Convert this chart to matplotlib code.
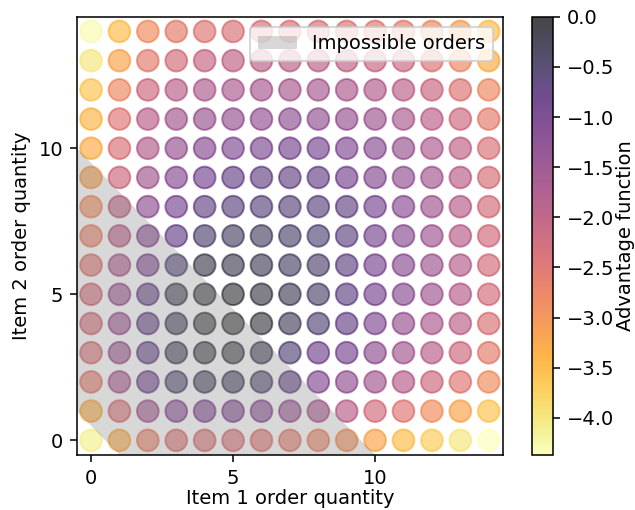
import numpy as np
import matplotlib.pyplot as plt
from matplotlib.cm import ScalarMappable

item1_qty = np.arange(15)
item2_qty = np.arange(15)

# advantage values, one row per item 2 quantity (0 at top of list)
advantage = np.array([
    [-4.10, -3.30, -2.70, -2.45, -2.40, -2.40, -2.50, -2.60, -2.75, -2.95, -3.20, -3.50, -3.70, -4.00, -4.37],  # y=0
    [-3.30, -2.40, -1.60, -1.20, -1.10, -1.10, -1.20, -1.40, -1.70, -1.90, -2.30, -2.50, -2.90, -3.20, -3.60],  # y=1
    [-2.60, -1.70, -0.90, -0.50, -0.35, -0.35, -0.50, -0.70, -1.15, -1.35, -1.60, -1.85, -2.20, -2.50, -2.90],  # y=2
    [-2.40, -1.50, -0.80, -0.30, -0.15, -0.15, -0.30, -0.55, -0.90, -1.00, -1.30, -1.60, -1.90, -2.20, -2.60],  # y=3
    [-2.30, -1.50, -0.80, -0.30, -0.10, 0.00, -0.10, -0.35, -0.55, -0.80, -1.10, -1.40, -1.70, -1.95, -2.40],  # y=4
    [-2.30, -1.50, -0.75, -0.25, -0.10, -0.05, -0.15, -0.30, -0.45, -0.70, -1.00, -1.25, -1.55, -1.85, -2.30],  # y=5
    [-2.50, -1.75, -1.10, -0.55, -0.20, -0.25, -0.30, -0.40, -0.50, -0.70, -1.00, -1.25, -1.55, -1.85, -2.30],  # y=6
    [-2.70, -1.90, -1.20, -0.80, -0.50, -0.40, -0.40, -0.45, -0.55, -0.70, -1.00, -1.25, -1.55, -1.85, -2.25],  # y=7
    [-2.90, -2.00, -1.30, -1.00, -0.75, -0.65, -0.60, -0.60, -0.65, -0.75, -1.00, -1.25, -1.55, -1.85, -2.30],  # y=8
    [-3.10, -2.20, -1.60, -1.20, -0.95, -0.80, -0.75, -0.75, -0.80, -0.95, -1.15, -1.35, -1.60, -1.90, -2.35],  # y=9
    [-3.30, -2.40, -1.80, -1.40, -1.20, -1.10, -1.05, -1.00, -1.00, -1.10, -1.25, -1.45, -1.70, -2.00, -2.40],  # y=10
    [-3.40, -2.50, -1.90, -1.60, -1.45, -1.40, -1.35, -1.30, -1.35, -1.40, -1.55, -1.70, -1.95, -2.20, -2.60],  # y=11
    [-3.60, -2.80, -2.20, -1.90, -1.75, -1.70, -1.65, -1.65, -1.65, -1.70, -1.80, -1.95, -2.15, -2.45, -2.80],  # y=12
    [-4.00, -3.20, -2.60, -2.30, -2.10, -2.00, -1.95, -1.95, -1.95, -2.00, -2.10, -2.20, -2.45, -2.80, -3.30],  # y=13
    [-4.30, -3.50, -2.90, -2.60, -2.50, -2.40, -2.40, -2.40, -2.40, -2.45, -2.50, -2.60, -2.80, -3.10, -3.50],  # y=14
])

# band of impossible orders: 0.5 <= q1 + q2 <= 9.5
impossible_low = 0.5
impossible_high = 9.5

xx, yy = np.meshgrid(item1_qty, item2_qty)

fig = plt.figure(figsize=(635 / 140, 510 / 140), dpi=140)
ax = fig.add_axes([0.121, 0.108, 0.671, 0.859])
cax = fig.add_axes([0.838, 0.108, 0.033, 0.859])

sc = ax.scatter(xx.ravel(), yy.ravel(), c=advantage.ravel(), cmap='inferno_r',
                s=125, alpha=0.5)

x_lo = -0.5
ax.fill([x_lo, x_lo, impossible_high - x_lo, impossible_low - x_lo],
        [impossible_low - x_lo, impossible_high - x_lo, x_lo, x_lo],
        color='gray', alpha=0.3, lw=0, label='Impossible orders')

ax.set_xlim(-0.5, 14.5)
ax.set_ylim(-0.5, 14.5)
ax.set_xticks([0, 5, 10])
ax.set_yticks([0, 5, 10])
ax.set_xlabel('Item 1 order quantity', labelpad=1)
ax.set_ylabel('Item 2 order quantity')
ax.legend(loc='upper right')

sm = ScalarMappable(norm=sc.norm, cmap='inferno_r')
cb = fig.colorbar(sm, cax=cax, alpha=0.72)
cb.set_label('Advantage function', labelpad=1)

plt.savefig('out.png')
